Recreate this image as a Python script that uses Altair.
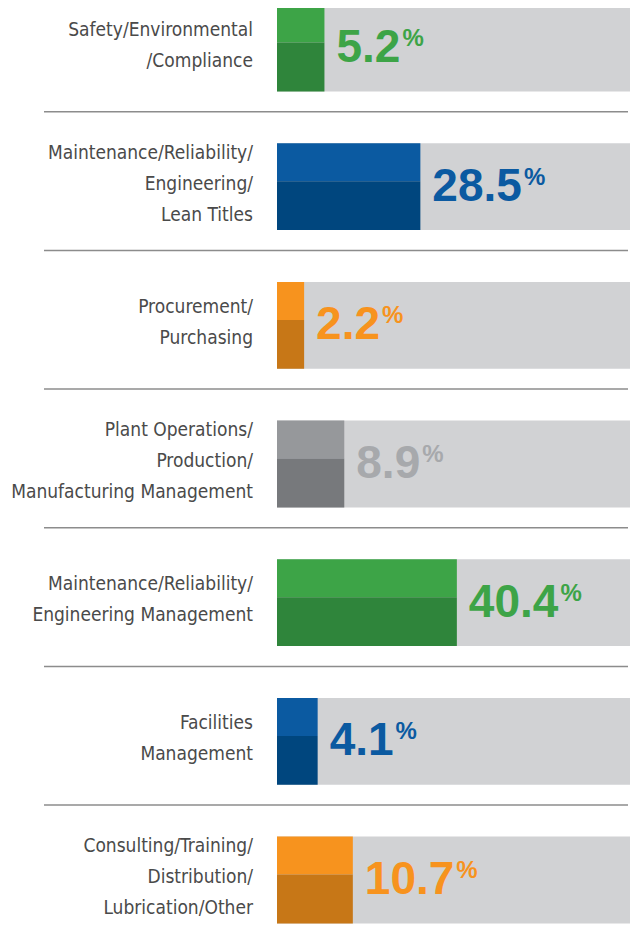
import altair as alt
import pandas as pd

# ---- data ----
categories = [
    "Safety/Environmental\n/Compliance",
    "Maintenance/Reliability/\nEngineering/\nLean Titles",
    "Procurement/\nPurchasing",
    "Plant Operations/\nProduction/\nManufacturing Management",
    "Maintenance/Reliability/\nEngineering Management",
    "Facilities\nManagement",
    "Consulting/Training/\nDistribution/\nLubrication/Other",
]
values = [5.2, 28.5, 2.2, 8.9, 40.4, 4.1, 10.7]
groups = ["green", "blue", "orange", "gray", "green", "blue", "orange"]

# ---- styling ----
group_names = ["green", "blue", "orange", "gray"]
light_colors = ["#3da447", "#0b5aa1", "#f7931e", "#96989b"]
dark_colors = ["#2f853b", "#00467e", "#c77717", "#77797c"]
text_colors = ["#3da447", "#0b5aa1", "#f7931e", "#a7a9ac"]

LABEL_FONT = "'DejaVu Sans Condensed', 'Liberation Sans', sans-serif"
NUM_FONT = "'Liberation Sans', Arial, sans-serif"
LINE_H = 31

df = pd.DataFrame({
    "row": list(range(len(categories))),
    "label": categories,
    "value": values,
    "group": groups,
})

xs = alt.Scale(type="pow", exponent=0.65, domain=[0, 114], range=[269, 622], nice=False, zero=True)
ys = alt.Scale(domain=[0, 6], range=[40, 872], nice=False, zero=False)

base = alt.Chart(df).transform_calculate(
    zero="0",
    top="datum.row - 0.313",
    split="datum.row - 0.039",
    bottom="datum.row + 0.313",
    sep="datum.row + 0.46",
    value_text="format(datum.value, '.1f')",
    nlines="length(split(datum.label, '\\n'))",
).transform_calculate(
    # pixel advance of the big number (digits 0.556em, point 0.278em at 46px)
    pct_dx="14 + 25.58 * (length(datum.value_text) - 1) + 12.79",
    label_dy=f"-3 - (datum.nlines - 1) * {LINE_H / 2}",
)

bg = base.mark_rect(color="#d1d2d4").encode(
    x=alt.X("zero:Q", scale=xs, axis=None),
    x2=alt.value("width"),
    y=alt.Y("top:Q", scale=ys, axis=None),
    y2="bottom:Q",
)

light = base.mark_rect().encode(
    x=alt.X("zero:Q", scale=xs, axis=None),
    x2="value:Q",
    y=alt.Y("top:Q", scale=ys, axis=None),
    y2="split:Q",
    color=alt.Color("group:N", scale=alt.Scale(domain=group_names, range=light_colors), legend=None),
)

dark = base.mark_rect().encode(
    x=alt.X("zero:Q", scale=xs, axis=None),
    x2="value:Q",
    y=alt.Y("split:Q", scale=ys, axis=None),
    y2="bottom:Q",
    color=alt.Color("group:N", scale=alt.Scale(domain=group_names, range=dark_colors), legend=None),
)

labels = base.mark_text(
    align="right", baseline="middle", lineBreak="\n", fontSize=19, lineHeight=LINE_H,
    font=LABEL_FONT, color="#4a4a4a", dy={"expr": "datum.label_dy"},
).encode(
    x=alt.value(245),
    y=alt.Y("row:Q", scale=ys, axis=None),
    text="label:N",
)

nums = base.mark_text(
    align="left", baseline="alphabetic", dx=12, dy=14, fontSize=46, fontWeight="bold", font=NUM_FONT,
).encode(
    x=alt.X("value:Q", scale=xs, axis=None),
    y=alt.Y("row:Q", scale=ys, axis=None),
    text="value_text:N",
    color=alt.Color("group:N", scale=alt.Scale(domain=group_names, range=text_colors), legend=None),
)

pct = base.mark_text(
    align="left", baseline="alphabetic", dx={"expr": "datum.pct_dx"}, dy=-2,
    fontSize=24, fontWeight="bold", font=NUM_FONT,
).encode(
    x=alt.X("value:Q", scale=xs, axis=None),
    y=alt.Y("row:Q", scale=ys, axis=None),
    text=alt.value("%"),
    color=alt.Color("group:N", scale=alt.Scale(domain=group_names, range=text_colors), legend=None),
)

seps = base.transform_filter("datum.row < 6").mark_rule(color="#8c8c8c", strokeWidth=1.5).encode(
    x=alt.value(36),
    x2=alt.value(620),
    y=alt.Y("sep:Q", scale=ys, axis=None),
)

chart = alt.layer(bg, light, dark, seps, labels, nums, pct).resolve_scale(
    color="independent"
).properties(
    width=622, height=921, autosize="none", padding=0,
).configure_view(stroke=None)

chart.save("out.html", embed_options={"renderer": "svg", "actions": False})
